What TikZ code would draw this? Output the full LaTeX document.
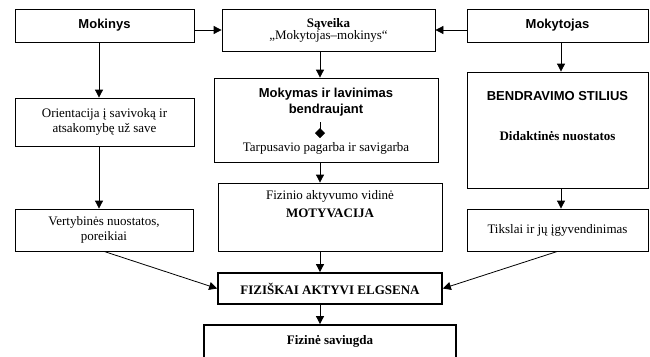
\documentclass[tikz,border=0pt]{standalone}
\usepackage{fontspec}
\setmainfont{Liberation Serif}
\setsansfont{Liberation Sans}
\usepackage{tikz}
\usetikzlibrary{arrows.meta,positioning,calc}
\tikzset{
  block/.style={rectangle, draw=black, line width=0.8pt, fill=white,
                align=center, inner sep=1pt,
                font=\fontsize{13}{14.5}\selectfont},
  heavy/.style={block, line width=1.8pt},
  sanslbl/.style={font=\fontsize{13}{16}\selectfont\sffamily\bfseries,
                  align=center, inner sep=1pt},
  txt/.style={font=\fontsize{13}{14.5}\selectfont, align=center, inner sep=1pt},
  arrow/.style={-{Triangle[length=8pt,width=8pt]}, line width=0.8pt, black},
}

\begin{document}
\begin{tikzpicture}[x=1pt,y=-1pt]
  \useasboundingbox (0,0) rectangle (650,356);
  \clip (0,0) rectangle (650,356);
  \coordinate (leftaxis) at (99,0);
  \coordinate (axis) at (320,0);
  \coordinate (rightaxis) at (561,0);
  % top row
  \node[block, sanslbl, minimum width=179pt, minimum height=33pt] (mokinys) at (104.5,25.5) {Mokinys};
  \node[block, minimum width=213pt, minimum height=42pt, font=\fontsize{13}{12}\selectfont] (saveika) at (328.5,30) {\textbf{Sąveika}\\„Mokytojas–mokinys“};
  \node[block, sanslbl, minimum width=181pt, minimum height=33pt] (mokytojas) at (557.5,25.5) {Mokytojas};
  % left column
  \node[block, minimum width=179pt, minimum height=48pt] (orient) at (104.5,122) {Orientacija į savivoką ir\\atsakomybę už save};
  \node[block, minimum width=178pt, minimum height=42pt] (vertyb) at (104,230) {Vertybinės nuostatos,\\poreikiai};
  % middle column
  \node[block, minimum width=224pt, minimum height=84pt] (mokymas) at (326,120) {};
  \node[sanslbl, below=9pt of mokymas.north] (mokymastxt) {Mokymas ir lavinimas\\bendraujant};
  \node[txt, above=7pt of mokymas.south] (pagarba) {Tarpusavio pagarba ir savigarba};
  \node[block, minimum width=224pt, minimum height=68pt] (motyv) at (330,217) {};
  \node[txt, below=7pt of motyv.north, font=\fontsize{13}{17.5}\selectfont] (motyvtxt) {Fizinio aktyvumo vidinė\\\textbf{MOTYVACIJA}};
  \node[heavy, minimum width=224pt, minimum height=31pt] (elgsena) at (330,288.5) {\textbf{FIZIŠKAI AKTYVI ELGSENA}};
  \node[heavy, minimum width=252pt, minimum height=40pt] (saviugda) at (330,345) {};
  \node[txt, below=10pt of saviugda.north] (saviugdatxt) {\textbf{Fizinė saviugda}};
  % right column
  \node[block, minimum width=181pt, minimum height=116pt] (bendrav) at (557.5,130) {};
  \node[sanslbl, below=19pt of bendrav.north] (stilius) {BENDRAVIMO STILIUS};
  \node[txt, below=28pt of stilius] (nuostatos) {\textbf{Didaktinės nuostatos}};
  \node[block, minimum width=181pt, minimum height=42pt] (tikslai) at (557.5,230) {Tikslai ir jų įgyvendinimas};
  % connectors
  \draw[arrow] (mokinys.east |- saveika.west) -- (saveika.west);
  \draw[arrow] (mokytojas.west |- saveika.east) -- (saveika.east);
  \draw[arrow] (mokinys.south -| leftaxis) -- (orient.north -| leftaxis);
  \draw[arrow] (orient.south -| leftaxis) -- (vertyb.north -| leftaxis);
  \draw[arrow] (saveika.south -| axis) -- (mokymas.north -| axis);
  \draw[-{Diamond[length=10pt,width=10pt]}, line width=0.8pt, shorten <=5pt, shorten >=3pt] (mokymastxt.south -| axis) -- (pagarba.north -| axis);
  \draw[arrow] (mokymas.south -| axis) -- (motyv.north -| axis);
  \draw[arrow] (motyv.south -| axis) -- (elgsena.north -| axis);
  \draw[arrow] (elgsena.south -| axis) -- (saviugda.north -| axis);
  \draw[arrow] (mokytojas.south -| rightaxis) -- (bendrav.north -| rightaxis);
  \draw[arrow] (bendrav.south -| rightaxis) -- (tikslai.north -| rightaxis);
  \draw[arrow] (vertyb.south) -- (elgsena.west);
  \draw[arrow] (tikslai.south) -- (elgsena.east);
\end{tikzpicture}
\end{document}
